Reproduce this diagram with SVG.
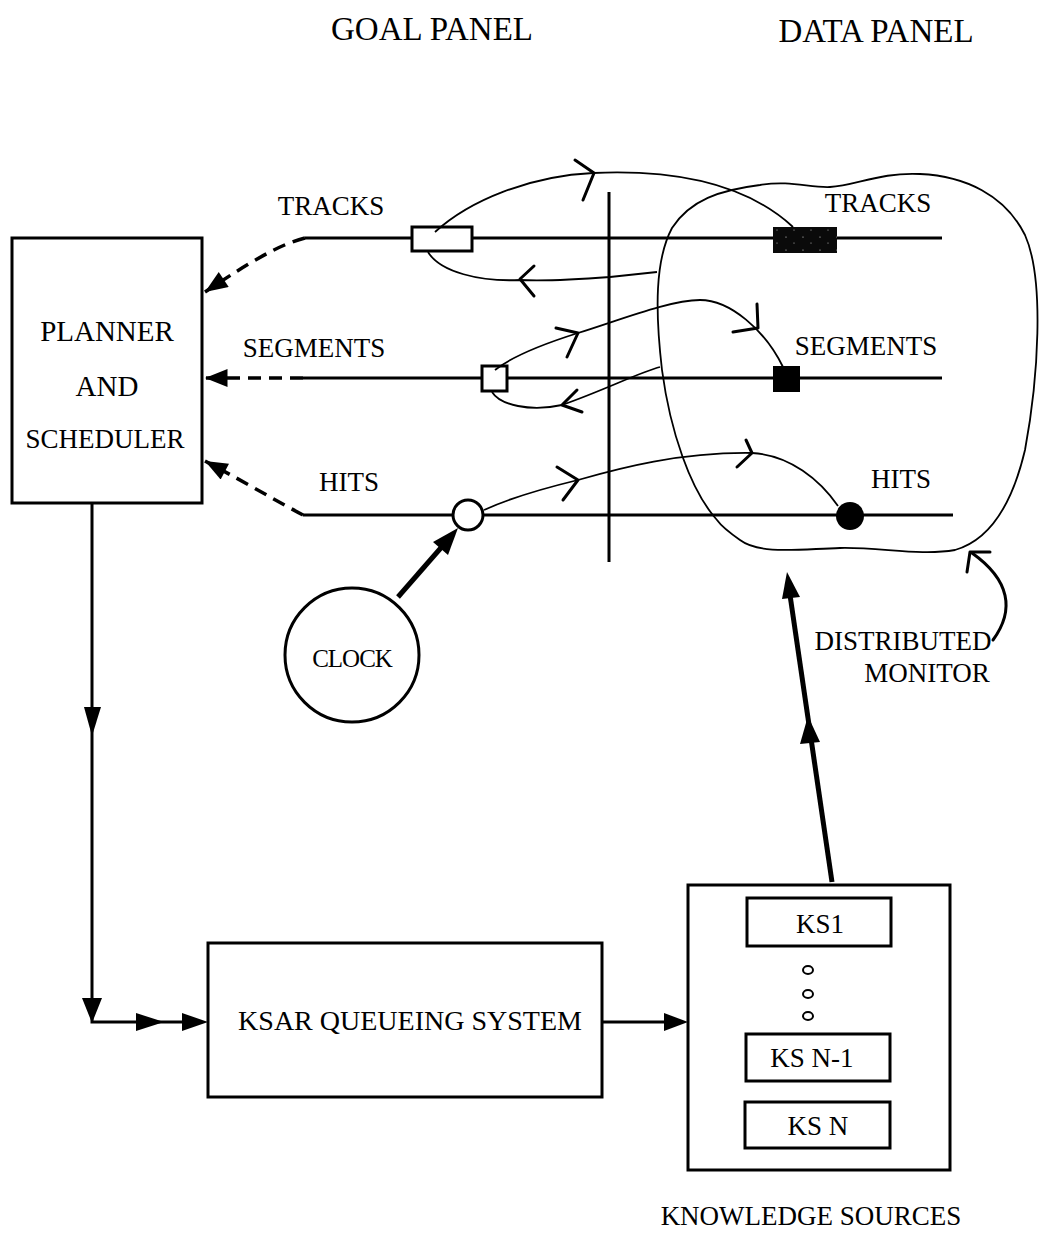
<svg xmlns="http://www.w3.org/2000/svg" width="1040" height="1235" viewBox="0 0 1040 1235">
  <style>
    text { font-family: "Liberation Serif", "Times New Roman", serif; font-size: 27px; fill: #000; text-anchor: middle; }
    .title { font-size: 33px; }
    .box { fill: #fff; stroke: #000; stroke-width: 3; }
    .rail { stroke: #000; stroke-width: 3; fill: none; }
    .dash { stroke: #000; stroke-width: 3.5; fill: none; stroke-dasharray: 13 8; }
    .flow { stroke: #000; stroke-width: 1.8; fill: none; }
    .tick { stroke: #000; stroke-width: 3; fill: none; stroke-linecap: round; stroke-linejoin: round; }
    .thick { stroke: #000; stroke-width: 5; fill: none; }
    .head { fill: #000; stroke: none; }
  </style>
  <defs>
    <marker id="tri" viewBox="0 0 10 8" refX="10" refY="4" markerWidth="24" markerHeight="18" markerUnits="userSpaceOnUse" orient="auto">
      <path d="M0,0 L10,4 L0,8 z" fill="#000"/>
    </marker>
    <pattern id="speckle" width="17" height="13" patternUnits="userSpaceOnUse">
      <rect width="17" height="13" fill="#0a0a0a"/>
      <circle cx="4" cy="3" r="0.6" fill="#ddd"/>
      <circle cx="12" cy="9" r="0.5" fill="#ddd"/>
    </pattern>
  </defs>

  <rect width="1040" height="1235" fill="#fff"/>

  <!-- panel titles -->
  <text class="title" x="432" y="40">GOAL PANEL</text>
  <text class="title" x="876" y="42">DATA PANEL</text>

  <!-- blackboard levels -->
  <g id="levels">
    <line class="rail" x1="305" y1="238" x2="942" y2="238"/>
    <line class="rail" x1="303" y1="378" x2="942" y2="378"/>
    <line class="rail" x1="303" y1="515" x2="953" y2="515"/>
    <line class="rail" x1="609" y1="192" x2="609" y2="562"/>
    <text x="331" y="215">TRACKS</text>
    <text x="314" y="357">SEGMENTS</text>
    <text x="349" y="491">HITS</text>
    <text x="878" y="212">TRACKS</text>
    <text x="866" y="355">SEGMENTS</text>
    <text x="901" y="488">HITS</text>
  </g>

  <!-- goal / data items on each level -->
  <g id="track-goal"><rect class="box" x="412" y="227" width="60" height="24"/></g>
  <g id="track-data"><rect x="773" y="227" width="64" height="26" fill="url(#speckle)"/></g>
  <g id="segment-goal"><rect class="box" x="482" y="366" width="25" height="25"/></g>
  <g id="segment-data"><rect x="773" y="366" width="27" height="26" fill="#000"/></g>
  <g id="hit-goal"><circle class="box" cx="468" cy="515" r="15"/></g>
  <g id="hit-data"><circle cx="850" cy="516" r="14" fill="#000"/></g>

  <!-- distributed monitor outline -->
  <g id="monitor">
    <path class="flow" d="M 717,520 C 690,490 670,430 662,370 C 655,310 655,260 672,228 C 690,200 720,190 760,185 C 790,180 810,188 830,187 C 855,186 880,172 920,174 C 965,176 1005,195 1025,235 C 1045,280 1038,380 1025,450 C 1012,505 990,540 955,550 C 920,556 880,547 840,548 C 800,549 760,555 740,540 C 730,533 722,527 717,520 Z"/>
    <text x="903" y="650">DISTRIBUTED</text>
    <text x="927" y="682">MONITOR</text>
  </g>

  <!-- planner -->
  <g id="planner">
    <rect class="box" x="12" y="238" width="190" height="265"/>
    <text x="107" y="341" style="font-size:29px">PLANNER</text>
    <text x="107" y="396" style="font-size:29px">AND</text>
    <text x="105" y="448">SCHEDULER</text>
  </g>

  <!-- clock -->
  <g id="clock">
    <circle class="box" cx="352" cy="655" r="67"/>
    <text x="352" y="667" style="font-size:25px;letter-spacing:-1px">CLOCK</text>
  </g>

  <!-- KSAR queue -->
  <g id="ksar">
    <rect class="box" x="208" y="943" width="394" height="154"/>
    <text x="410" y="1030" style="font-size:28px">KSAR QUEUEING SYSTEM</text>
  </g>

  <!-- knowledge sources -->
  <g id="knowledge-sources">
    <rect class="box" x="688" y="885" width="262" height="285"/>
    <rect class="box" x="747" y="898" width="144" height="48"/>
    <text x="820" y="933">KS1</text>
    <ellipse cx="808" cy="970" rx="5" ry="4" fill="none" stroke="#000" stroke-width="2"/>
    <ellipse cx="808" cy="994" rx="5" ry="4" fill="none" stroke="#000" stroke-width="2"/>
    <ellipse cx="808" cy="1016" rx="5" ry="4" fill="none" stroke="#000" stroke-width="2"/>
    <rect class="box" x="746" y="1034" width="144" height="47"/>
    <text x="812" y="1067">KS  N-1</text>
    <rect class="box" x="745" y="1102" width="145" height="46"/>
    <text x="818" y="1135">KS N</text>
    <text x="811" y="1225">KNOWLEDGE SOURCES</text>
  </g>

  <!-- connectors -->
  <g id="connectors">
    <!-- goal levels report to planner -->
    <path class="dash" d="M 305,238 C 280,244 250,262 205,292" marker-end="url(#tri)"/>
    <path class="dash" d="M 303,378 L 205,378" marker-end="url(#tri)"/>
    <path class="dash" d="M 303,515 C 280,503 250,485 205,461" marker-end="url(#tri)"/>

    <!-- track goal <-> track data -->
    <path class="flow" d="M 435,232 C 470,200 530,176 593,173 C 660,170 740,178 793,227"/>
    <polyline class="tick" points="575,160 594,173 583,200"/>
    <path class="flow" d="M 657,272 L 610,277 C 570,280 540,281 520,280 C 480,282 440,272 428,252"/>
    <polyline class="tick" points="534,266 520,279 534,296"/>

    <!-- segment goal <-> segment data -->
    <path class="flow" d="M 495,370 C 510,358 540,345 578,333 C 620,320 670,300 700,300 C 730,300 765,330 783,367"/>
    <polyline class="tick" points="556,328 578,333 567,357"/>
    <polyline class="tick" points="757,304 758,328 733,332"/>
    <path class="flow" d="M 660,367 C 640,372 605,390 562,405 C 530,412 500,405 492,392"/>
    <polyline class="tick" points="577,390 562,405 582,412"/>

    <!-- hit goal -> hit data -->
    <path class="flow" d="M 484,510 C 510,498 545,488 578,480 C 620,468 680,452 752,453 C 790,455 820,480 838,506"/>
    <polyline class="tick" points="557,467 578,480 563,500"/>
    <polyline class="tick" points="746,440 752,453 737,467"/>

    <!-- clock drives hits -->
    <line class="thick" x1="398" y1="597" x2="446" y2="542"/>
    <polygon class="head" points="458,528 448,555 433,542"/>

    <!-- distributed monitor pointer -->
    <path class="tick" d="M 993,640 C 1015,610 1010,580 972,553"/>
    <polyline class="tick" points="990,552 970,552 967,572"/>

    <!-- planner -> KSAR queue -->
    <polyline class="rail" points="92,503 92,1022 190,1022"/>
    <polygon class="head" points="84,707 101,707 92,736"/>
    <polygon class="head" points="82,998 102,998 92,1023"/>
    <polygon class="head" points="136,1013 136,1031 164,1022"/>
    <polygon class="head" points="182,1013 182,1031 208,1022"/>

    <!-- KSAR queue -> knowledge sources -->
    <line class="rail" x1="602" y1="1022" x2="668" y2="1022"/>
    <polygon class="head" points="664,1013 664,1031 688,1022"/>

    <!-- knowledge sources -> data panel -->
    <line class="thick" x1="832" y1="882" x2="790" y2="595"/>
    <polygon class="head" points="808,716 800,744 820,742"/>
    <polygon class="head" points="787,572 782,599 800,597"/>
  </g>
</svg>
